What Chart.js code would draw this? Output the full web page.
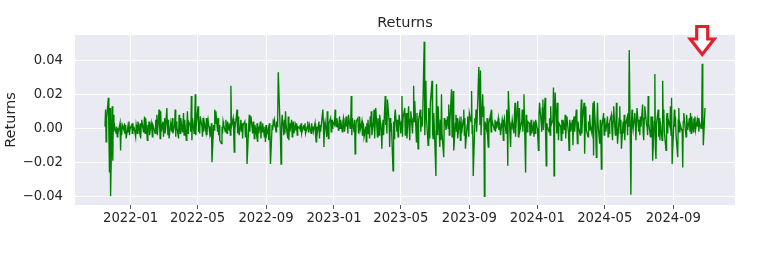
<!DOCTYPE html>
<html><head><meta charset="utf-8">
<script src="https://cdn.jsdelivr.net/npm/chart.js@4.4.0/dist/chart.umd.min.js"></script>
<style>html,body{margin:0;padding:0;background:#fff;}#wrap{width:758px;height:254px;}</style>
</head><body><div id="wrap"><canvas id="c" width="758" height="254"></canvas></div>
<script>
const chartTitle = 'Returns';
const yAxisLabel = 'Returns';
const startDate = '2021-11-16';
const xTickLabels = ['2022-01','2022-05','2022-09','2023-01','2023-05','2023-09','2024-01','2024-05','2024-09'];
const yTickValues = [-0.04, -0.02, 0.00, 0.02, 0.04];
const markedIndex = 766; // spike marked by the red arrow
const returns = [
 0.001,0.011,-0.008,0.006,0.018,-0.004,-0.026,0.012,-0.040,0.013,-0.019,0.008,-0.002,
 0.002,-0.003,0.001,-0.005,0.000,-0.002,0.003,-0.013,0.001,-0.004,0.002,-0.001,0.003,
 -0.003,0.002,-0.006,0.001,-0.002,0.004,-0.004,0.000,0.002,-0.003,0.003,-0.001,0.001,
 -0.005,0.002,0.000,-0.003,0.004,-0.002,0.003,-0.006,0.001,0.005,-0.002,0.002,
 0.007,-0.003,0.006,-0.007,0.002,-0.001,0.004,-0.004,0.003,0.000,-0.005,0.002,0.001,
 -0.003,0.005,-0.002,0.008,-0.004,0.011,0.002,-0.006,0.010,-0.002,0.004,-0.005,0.003,
 0.006,-0.003,0.012,0.001,-0.004,0.005,-0.006,0.003,0.000,-0.002,0.006,-0.003,0.002,
 0.011,-0.005,0.004,0.001,-0.006,0.008,0.002,-0.003,0.006,-0.002,0.003,0.009,
 -0.004,0.005,-0.007,0.002,0.010,-0.003,0.004,0.002,-0.002,0.019,-0.007,0.006,-0.003,
 0.003,0.020,-0.004,0.003,0.013,-0.002,0.004,-0.003,0.007,0.001,-0.005,0.006,-0.002,
 0.004,-0.002,0.006,-0.004,0.002,0.005,-0.003,0.001,-0.005,0.003,-0.020,0.002,-0.001,
 0.011,0.003,0.010,-0.002,0.006,-0.004,0.002,-0.007,-0.009,0.001,-0.003,0.004,
 0.002,-0.002,0.005,0.000,-0.003,0.004,-0.001,0.003,-0.004,0.025,0.001,0.006,-0.002,
 -0.014,0.004,0.002,0.011,-0.003,0.007,0.000,-0.004,0.005,-0.002,0.003,-0.006,0.002,
 0.004,-0.005,0.001,0.003,-0.021,0.002,0.008,-0.002,0.005,0.007,-0.003,0.004,0.001,
 -0.006,0.002,-0.004,0.003,-0.008,0.001,-0.003,0.004,-0.006,0.000,-0.002,0.003,
 -0.005,0.001,-0.008,0.002,-0.004,0.000,-0.007,0.003,-0.003,-0.021,0.002,-0.001,0.004,
 0.003,0.005,-0.002,0.004,0.001,0.006,0.033,0.004,-0.006,-0.021,0.002,0.008,-0.004,
 0.005,-0.003,0.010,0.002,-0.006,0.007,-0.007,0.003,-0.002,0.005,-0.005,0.001,0.004,
 -0.003,0.002,-0.001,0.003,-0.004,0.001,0.000,0.002,-0.002,0.003,-0.003,0.001,
 0.002,-0.001,0.003,-0.003,0.001,0.004,-0.002,0.000,0.002,-0.003,0.003,-0.001,0.001,
 -0.002,0.003,-0.004,-0.008,0.001,-0.003,0.004,-0.006,0.002,-0.002,0.001,0.011,0.003,
 -0.011,0.002,0.004,-0.005,0.010,0.001,-0.006,0.003,0.006,-0.002,0.005,0.000,0.004,
 0.002,0.011,0.004,0.001,0.006,-0.001,0.003,0.007,0.000,0.005,-0.002,0.004,
 0.006,0.002,-0.002,0.007,0.001,0.004,-0.003,0.008,0.000,0.003,0.019,-0.004,0.006,
 -0.002,0.005,-0.015,-0.006,0.004,0.006,-0.003,0.002,0.007,-0.001,0.004,-0.004,0.003,
 0.002,-0.005,0.001,-0.008,0.003,-0.003,0.005,-0.006,0.007,0.001,0.010,-0.004,0.004,
 0.011,-0.006,0.003,0.012,-0.005,0.006,0.002,-0.004,0.008,-0.002,-0.012,0.003,
 0.005,-0.004,0.019,0.002,0.009,-0.003,0.017,0.004,-0.011,0.006,-0.002,0.003,-0.025,
 0.004,-0.006,0.007,0.011,-0.002,0.005,-0.005,0.002,0.008,-0.003,0.004,0.019,-0.005,
 0.006,0.012,-0.004,0.002,0.009,-0.006,0.013,0.001,-0.007,0.005,0.010,-0.003,0.006,
 0.025,0.004,0.016,-0.008,0.009,-0.003,-0.012,0.005,0.011,-0.002,0.007,0.001,
 0.003,0.051,-0.004,0.008,0.028,0.006,-0.010,0.012,0.004,-0.006,0.015,0.028,-0.003,
 -0.006,0.009,0.002,-0.028,0.026,0.004,-0.004,0.013,-0.011,0.005,-0.007,0.020,-0.003,
 -0.017,0.006,0.002,0.005,-0.001,0.007,0.000,0.014,-0.004,0.003,0.023,-0.005,0.004,
 0.022,-0.013,0.003,0.008,-0.002,0.006,-0.006,0.004,0.001,-0.007,0.007,-0.003,
 0.005,0.011,-0.004,0.006,-0.012,0.002,0.007,0.000,-0.005,0.009,0.004,0.022,-0.003,
 0.002,-0.028,0.006,0.003,0.011,-0.002,0.005,0.036,0.018,0.002,0.034,-0.004,0.020,
 0.007,0.013,-0.040,0.004,-0.001,0.006,-0.006,-0.011,0.003,0.008,-0.002,0.011,0.002,
 0.003,-0.001,0.005,-0.002,0.004,0.000,0.006,-0.001,0.003,0.002,-0.004,0.005,
 0.002,-0.007,0.004,0.006,-0.003,0.011,0.003,-0.022,0.022,-0.004,-0.011,0.002,0.001,
 0.005,-0.003,0.008,0.015,-0.005,0.003,0.016,-0.005,0.002,0.012,-0.001,0.004,0.011,
 -0.002,0.006,0.020,-0.026,0.008,0.005,-0.002,0.004,0.003,-0.004,0.001,0.005,-0.003,
 0.002,-0.005,0.004,-0.003,0.005,0.000,-0.006,-0.013,0.008,0.015,0.003,-0.002,
 0.012,0.017,-0.001,0.018,-0.005,-0.022,0.003,0.001,-0.002,0.006,-0.004,0.013,0.002,
 0.005,0.024,-0.028,0.010,0.021,-0.003,0.015,0.004,-0.007,0.003,0.001,-0.007,0.005,
 -0.003,0.005,-0.001,0.008,-0.006,0.002,0.007,-0.003,-0.013,0.005,0.003,-0.002,0.005,
 -0.010,0.004,0.007,-0.002,0.011,0.001,-0.009,0.004,0.001,-0.004,0.008,0.017,
 -0.003,0.006,0.015,-0.015,0.002,0.013,-0.001,-0.005,0.004,-0.001,0.008,0.002,-0.003,
 0.006,0.015,-0.016,0.016,-0.004,-0.017,0.003,0.015,0.002,-0.009,0.005,-0.003,-0.024,
 0.001,0.009,-0.004,0.006,0.001,-0.002,0.007,-0.005,0.003,-0.003,0.004,0.008,-0.002,
 -0.007,0.004,0.013,-0.004,-0.001,0.015,0.002,-0.009,0.006,0.013,-0.003,0.005,
 -0.012,0.004,-0.003,0.008,-0.007,0.002,0.006,-0.004,0.009,0.001,0.046,-0.039,0.003,
 0.011,0.002,-0.001,0.009,0.003,-0.007,0.004,0.012,-0.002,0.005,-0.004,0.007,0.001,
 0.014,-0.003,-0.007,0.006,0.013,0.002,0.001,-0.004,0.019,0.003,-0.005,0.007,0.002,
 0.007,-0.019,0.004,0.032,-0.012,-0.018,0.003,0.011,-0.005,0.006,-0.007,0.004,
 -0.007,0.028,0.004,0.011,-0.002,-0.013,0.006,0.009,-0.003,0.005,0.001,0.013,-0.004,
 0.018,-0.021,0.003,0.011,0.001,0.007,-0.004,-0.017,0.005,0.012,-0.002,0.003,-0.001,
 -0.001,-0.023,0.004,0.009,-0.002,-0.005,0.008,0.003,-0.001,0.006,-0.002,0.009,-0.003,
 0.007,-0.002,0.006,0.000,0.007,-0.001,0.005,0.001,0.006,-0.002,0.004,0.000,
 0.003,0.038,0.013,-0.010,0.012
];

const DAY = 86400000;
const toDay = s => Date.parse(s + 'T00:00:00Z') / DAY;
const tradingDays = [];
for (let d = toDay(startDate); tradingDays.length < returns.length; d++) {
  const wd = new Date(d * DAY).getUTCDay();
  if (wd !== 0 && wd !== 6) tradingDays.push(d);
}
const points = returns.map((v, i) => ({ x: tradingDays[i], y: v }));
const xFirst = tradingDays[0], xLast = tradingDays[tradingDays.length - 1];
const xPad = (xLast - xFirst) * 0.05;
const fmtMonth = v => { const dt = new Date(v * DAY); return dt.getUTCFullYear() + '-' + String(dt.getUTCMonth() + 1).padStart(2, '0'); };
const fmtNum = v => (v < -1e-9 ? '\u2212' : '') + Math.abs(v).toFixed(2);
const FONT = 'DejaVu Sans';
const TXT = '#262626';

const bgPlugin = {
  id: 'bg',
  beforeDraw(chart) {
    const { ctx, chartArea: a } = chart;
    ctx.save(); ctx.fillStyle = '#EAEAF2';
    ctx.fillRect(a.left, a.top, a.right - a.left, a.bottom - a.top);
    ctx.restore();
  }
};
const titlePlugin = {
  id: 'axTitle',
  afterDraw(chart) {
    const { ctx, chartArea: a } = chart;
    ctx.save();
    ctx.font = '14.5px "DejaVu Sans"';
    ctx.fillStyle = TXT; ctx.textAlign = 'center'; ctx.textBaseline = 'middle';
    ctx.fillText(chartTitle, (a.left + a.right) / 2, 23);
    ctx.restore();
  }
};
const arrowPlugin = {
  id: 'arrow',
  afterDraw(chart) {
    const { ctx } = chart;
    const cx = chart.scales.x.getPixelForValue(tradingDays[markedIndex]);
    const top = 26.5, neck = 39, tip = 54.5, sw = 5.5, hw = 12;
    ctx.save();
    ctx.beginPath();
    ctx.moveTo(cx - sw, top); ctx.lineTo(cx + sw, top); ctx.lineTo(cx + sw, neck);
    ctx.lineTo(cx + hw, neck); ctx.lineTo(cx, tip); ctx.lineTo(cx - hw, neck);
    ctx.lineTo(cx - sw, neck); ctx.closePath();
    ctx.fillStyle = '#ffffff'; ctx.fill();
    ctx.lineWidth = 3.2; ctx.strokeStyle = '#e3202b'; ctx.lineJoin = 'miter'; ctx.stroke();
    ctx.restore();
  }
};

new Chart(document.getElementById('c'), {
  type: 'line',
  data: { datasets: [{ data: points, borderColor: '#008000', borderWidth: 1.35, pointRadius: 0, tension: 0, fill: false }] },
  options: {
    responsive: false, animation: false, events: [],
    layout: { padding: { left: 0, right: 23, top: 35, bottom: 0 } },
    plugins: { legend: { display: false }, tooltip: { enabled: false }, title: { display: false } },
    scales: {
      x: {
        type: 'linear', min: xFirst - xPad, max: xLast + xPad,
        afterBuildTicks: s => { s.ticks = xTickLabels.map(l => ({ value: toDay(l + '-01') })); },
        ticks: { callback: v => fmtMonth(v), color: TXT, font: { family: FONT, size: 13.2 }, padding: 2, maxRotation: 0, autoSkip: false },
        grid: { color: '#ffffff', lineWidth: 1, tickColor: '#555555', tickLength: 4, drawTicks: true },
        border: { display: false },
        afterFit: s => { s.height = 49; }
      },
      y: {
        min: -0.0451, max: 0.0549,
        afterBuildTicks: s => { s.ticks = yTickValues.map(v => ({ value: v })); },
        ticks: { callback: v => fmtNum(v), color: TXT, font: { family: FONT, size: 13.2 }, padding: 12 },
        grid: { color: '#ffffff', lineWidth: 1, drawTicks: false },
        border: { display: false },
        title: { display: true, text: yAxisLabel, color: TXT, font: { family: FONT, size: 14.5, weight: 'normal' }, padding: { top: 2.5, bottom: 0 } },
        afterFit: s => { s.width = 75; }
      }
    }
  },
  plugins: [bgPlugin, titlePlugin, arrowPlugin]
});
</script>
</body></html>
